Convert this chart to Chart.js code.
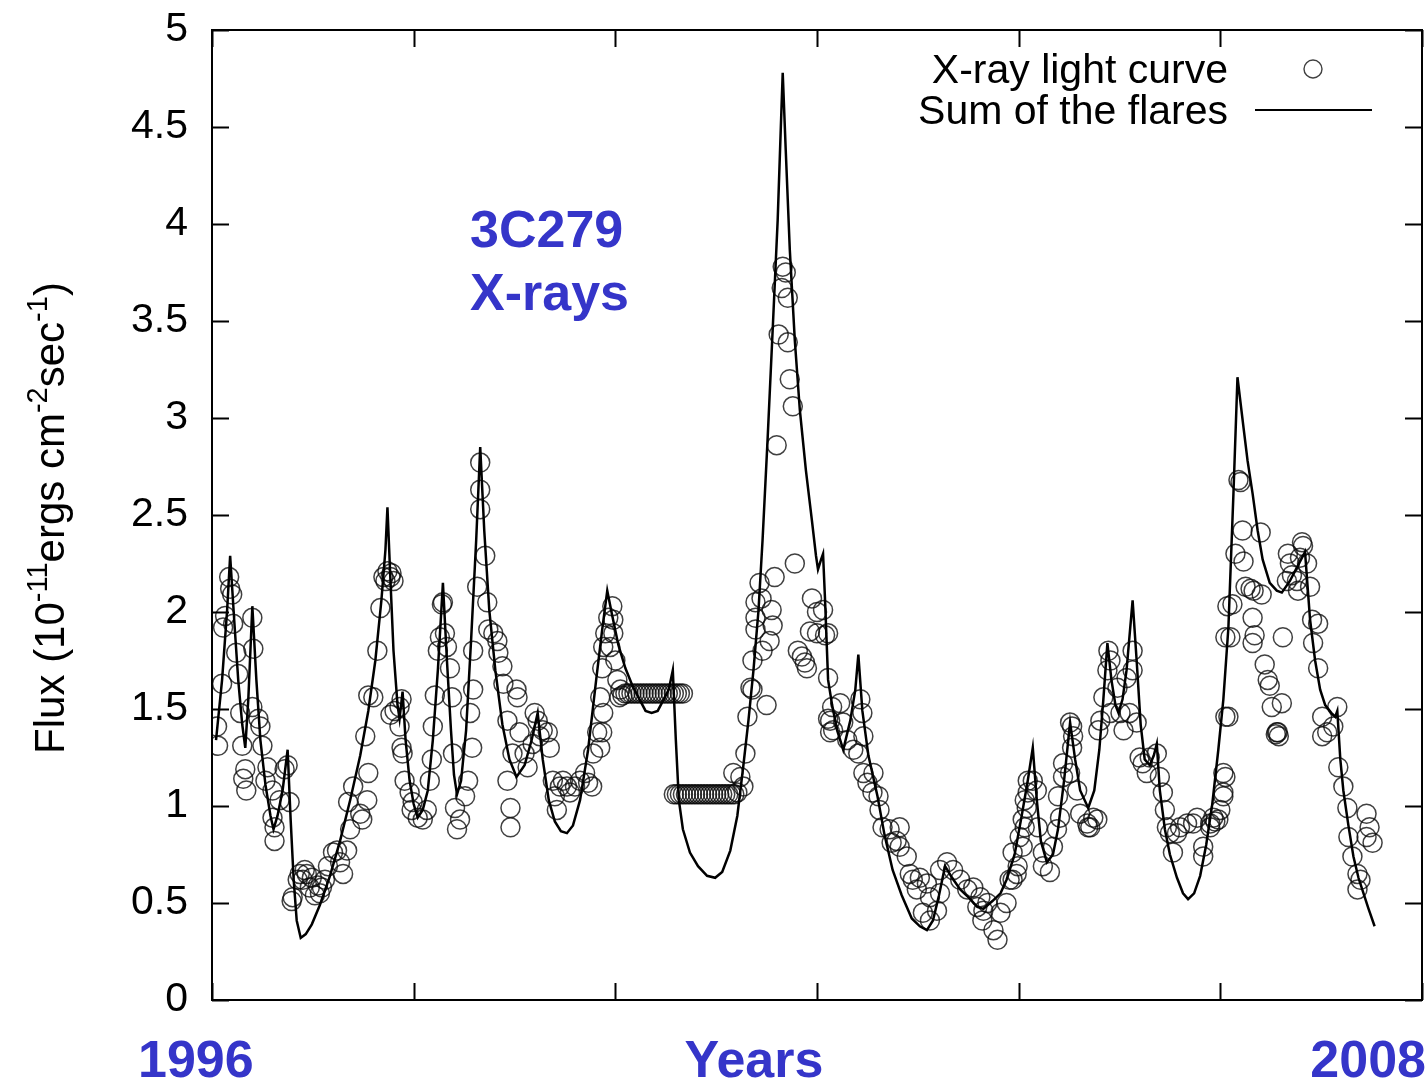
<!DOCTYPE html>
<html>
<head>
<meta charset="utf-8">
<title>3C279 X-rays</title>
<script src="https://cdn.jsdelivr.net/npm/chart.js@4.4.1/dist/chart.umd.min.js"></script>
<style>
  html, body { margin: 0; padding: 0; background: #ffffff; }
  canvas { display: block; }
</style>
</head>
<body>
<canvas id="chart" width="1427" height="1082"></canvas>
<script>
// Observed X-ray light curve of 3C279 (decimal year, flux in 1e-11 erg cm^-2 s^-1)
const obsYear = [
  1996.05,1996.06,1996.10,1996.11,1996.13,1996.17,1996.18,1996.20,1996.21,1996.24,
  1996.26,1996.28,1996.30,1996.31,1996.33,1996.34,1996.40,1996.40,1996.41,1996.46,
  1996.48,1996.50,1996.53,1996.55,1996.60,1996.60,1996.62,1996.62,1996.67,1996.72,
  1996.75,1996.77,1996.79,1996.80,1996.85,1996.87,1996.90,1996.92,1996.94,1996.97,
  1996.99,1997.02,1997.05,1997.07,1997.09,1997.12,1997.15,1997.20,1997.24,1997.27,
  1997.30,1997.34,1997.35,1997.37,1997.40,1997.47,1997.49,1997.52,1997.54,1997.55,
  1997.55,1997.60,1997.64,1997.67,1997.70,1997.72,1997.74,1997.77,1997.78,1997.80,
  1997.77,1997.81,1997.86,1997.88,1997.86,1997.88,1997.89,1997.91,1997.96,1997.98,
  1997.99,1998.04,1998.09,1998.13,1998.16,1998.18,1998.19,1998.21,1998.24,1998.26,
  1998.28,1998.29,1998.31,1998.33,1998.36,1998.38,1998.39,1998.41,1998.43,1998.46,
  1998.51,1998.54,1998.56,1998.58,1998.59,1998.59,1998.63,1998.66,1998.66,1998.66,
  1998.71,1998.73,1998.74,1998.79,1998.83,1998.84,1998.88,1998.89,1998.93,1998.93,
  1998.96,1998.96,1998.98,1999.02,1999.03,1999.05,1999.10,1999.13,1999.18,1999.20,
  1999.23,1999.25,1999.28,1999.33,1999.35,1999.38,1999.40,1999.42,1999.45,1999.48,
  1999.52,1999.55,1999.60,1999.65,1999.70,1999.73,1999.77,1999.78,1999.82,1999.85,
  1999.85,1999.87,1999.87,1999.88,1999.88,1999.90,1999.93,1999.95,1999.97,1999.98,
  1999.98,2000.00,2000.02,2000.05,2000.04,2000.07,2000.10,2000.13,2000.16,2000.19,
  2000.22,2000.25,2000.28,2000.31,2000.34,2000.37,2000.40,2000.43,2000.46,2000.49,
  2000.52,2000.55,2000.58,2000.61,2000.64,2000.67,2000.58,2000.61,2000.64,2000.67,
  2000.70,2000.73,2000.76,2000.79,2000.82,2000.85,2000.88,2000.91,2000.94,2000.97,
  2001.00,2001.03,2001.06,2001.09,2001.12,2001.15,2001.18,2001.21,2001.17,2001.24,
  2001.27,2001.29,2001.31,2001.34,2001.36,2001.36,2001.39,2001.39,2001.39,2001.43,
  2001.45,2001.46,2001.50,2001.53,2001.55,2001.56,2001.58,2001.60,2001.62,2001.65,
  2001.66,2001.69,2001.71,2001.71,2001.73,2001.76,2001.78,2001.81,2001.85,2001.88,
  2001.90,2001.93,2001.95,2002.00,2002.00,2002.06,2002.08,2002.11,2002.11,2002.11,
  2002.13,2002.13,2002.15,2002.16,2002.23,2002.26,2002.30,2002.36,2002.41,2002.43,
  2002.45,2002.46,2002.46,2002.50,2002.55,2002.56,2002.61,2002.62,2002.65,2002.72,
  2002.74,2002.79,2002.82,2002.82,2002.89,2002.92,2002.95,2002.99,2003.02,2003.05,
  2003.09,2003.12,2003.12,2003.19,2003.22,2003.22,2003.29,2003.35,2003.42,2003.49,
  2003.55,2003.59,2003.62,2003.64,2003.65,2003.69,2003.75,2003.79,2003.82,2003.88,
  2003.91,2003.94,2003.94,2003.98,2003.99,2004.01,2004.04,2004.04,2004.06,2004.06,
  2004.08,2004.09,2004.09,2004.14,2004.18,2004.19,2004.24,2004.24,2004.31,2004.34,
  2004.38,2004.39,2004.41,2004.44,2004.44,2004.51,2004.51,2004.53,2004.53,2004.54,
  2004.58,2004.61,2004.68,2004.69,2004.71,2004.74,2004.78,2004.79,2004.81,2004.84,
  2004.88,2004.89,2004.91,2004.91,2004.98,2005.01,2005.04,2005.07,2005.10,2005.13,
  2005.13,2005.17,2005.20,2005.23,2005.27,2005.30,2005.37,2005.40,2005.43,2005.45,
  2005.47,2005.50,2005.53,2005.57,2005.60,2005.67,2005.73,2005.77,2005.83,2005.83,
  2005.90,2005.90,2005.93,2005.95,2005.98,2006.00,2006.03,2006.03,2006.03,2006.05,
  2006.05,2006.05,2006.07,2006.08,2006.10,2006.12,2006.15,2006.18,2006.20,2006.22,
  2006.23,2006.25,2006.30,2006.32,2006.32,2006.33,2006.34,2006.40,2006.41,2006.44,
  2006.47,2006.49,2006.51,2006.55,2006.56,2006.57,2006.58,2006.61,2006.62,2006.66,
  2006.67,2006.69,2006.71,2006.76,2006.77,2006.79,2006.81,2006.82,2006.86,2006.89,
  2006.91,2006.92,2006.97,2006.97,2007.01,2007.01,2007.06,2007.12,2007.16,2007.17,
  2007.22,2007.26,2007.27,2007.31,2007.36,2007.36,2007.39,2007.45,2007.45,2007.48,
  2007.51
];
const obsFlux = [
  1.41,1.31,1.63,1.92,1.98,2.18,2.12,2.09,1.94,1.79,
  1.68,1.48,1.31,1.14,1.19,1.08,1.97,1.51,1.81,1.45,
  1.41,1.31,1.13,1.20,1.08,0.94,0.89,0.82,1.03,1.19,
  1.21,1.02,0.51,0.53,0.62,0.65,0.62,0.67,0.65,0.58,
  0.63,0.54,0.59,0.55,0.58,0.62,0.69,0.76,0.77,0.71,
  0.65,0.77,1.02,0.88,1.10,0.96,0.93,1.36,1.03,1.17,
  1.57,1.56,1.80,2.02,2.18,2.16,2.21,2.18,2.20,2.16,
  1.47,1.49,1.51,1.55,1.41,1.30,1.27,1.13,1.07,0.98,
  1.02,0.94,0.93,0.98,1.13,1.24,1.41,1.57,1.80,1.87,
  2.04,2.05,1.89,1.82,1.71,1.56,1.27,0.99,0.88,0.93,
  1.05,1.13,1.48,1.30,1.60,1.80,2.13,2.53,2.63,2.77,
  2.29,2.05,1.91,1.89,1.85,1.79,1.72,1.63,1.44,1.13,
  0.99,0.89,1.27,1.60,1.56,1.38,1.27,1.20,1.32,1.48,
  1.44,1.36,1.39,1.38,1.30,1.13,1.05,0.98,1.10,1.13,
  1.10,1.07,1.10,1.13,1.17,1.12,1.10,1.27,1.38,1.56,
  1.30,1.71,1.38,1.82,1.48,1.89,1.97,1.82,2.03,1.89,
  1.96,1.75,1.65,1.60,1.56,1.57,1.58,1.58,1.58,1.58,
  1.58,1.58,1.58,1.58,1.58,1.58,1.58,1.58,1.58,1.58,
  1.58,1.58,1.58,1.58,1.58,1.58,1.06,1.06,1.06,1.06,
  1.06,1.06,1.06,1.06,1.06,1.06,1.06,1.06,1.06,1.06,
  1.06,1.06,1.06,1.06,1.06,1.06,1.06,1.07,1.17,1.15,
  1.10,1.27,1.46,1.61,1.75,1.60,2.05,1.97,1.91,2.15,
  2.07,1.80,1.52,1.85,2.01,1.93,2.18,2.86,3.43,3.67,
  3.78,3.75,3.62,3.39,3.20,3.06,2.25,1.80,1.77,1.74,
  1.71,1.90,2.07,2.00,1.89,2.01,1.88,1.89,1.66,1.45,
  1.44,1.38,1.51,1.39,1.53,1.43,1.34,1.29,1.27,1.55,
  1.48,1.36,1.17,1.12,1.07,1.17,1.05,0.98,0.89,0.88,
  0.81,0.82,0.89,0.79,0.74,0.65,0.62,0.57,0.63,0.45,
  0.60,0.53,0.41,0.46,0.55,0.67,0.71,0.67,0.62,0.57,
  0.58,0.48,0.53,0.41,0.46,0.50,0.36,0.31,0.45,0.50,
  0.62,0.62,0.76,0.65,0.69,0.84,0.79,0.93,0.89,1.03,
  0.99,1.07,1.13,1.13,1.08,0.89,0.76,0.69,0.66,0.79,
  0.88,1.05,0.94,1.15,1.22,1.17,1.43,1.30,1.41,1.36,
  1.08,0.96,0.91,0.89,0.89,0.94,0.93,1.39,1.44,1.56,
  1.70,1.80,1.75,1.48,1.61,1.48,1.39,1.66,1.48,1.80,
  1.70,1.43,1.25,1.22,1.17,1.25,1.27,1.15,1.07,0.98,
  0.89,0.86,0.76,0.86,0.89,0.91,0.91,0.94,0.79,0.74,
  0.89,0.91,0.94,0.92,0.93,0.98,1.07,1.05,1.17,1.15,
  1.46,1.87,2.03,1.46,1.87,2.04,2.30,2.68,2.67,2.42,
  2.26,2.13,2.12,1.97,1.84,2.11,1.88,2.41,2.09,1.73,
  1.65,1.62,1.51,1.37,1.38,1.38,1.36,1.53,1.87,2.16,
  2.30,2.25,2.19,2.16,2.11,2.28,2.36,2.34,2.25,2.13,
  1.96,1.84,1.94,1.71,1.46,1.36,1.38,1.41,1.51,1.20,
  1.10,0.99,0.84,0.74,0.65,0.57,0.62,0.96,0.84,0.89,
  0.81
];

// Model: sum of the fitted flares
const curveYear = [
  1996.04,1996.10,1996.15,1996.18,1996.22,1996.26,1996.30,1996.33,1996.36,1996.40,
  1996.44,1996.48,1996.53,1996.58,1996.61,1996.65,1996.70,1996.75,1996.78,1996.81,
  1996.84,1996.88,1996.93,1996.99,1997.07,1997.17,1997.27,1997.37,1997.47,1997.55,
  1997.62,1997.68,1997.72,1997.74,1997.77,1997.80,1997.84,1997.86,1997.89,1997.92,
  1997.96,1998.00,1998.04,1998.09,1998.14,1998.19,1998.24,1998.29,1998.33,1998.37,
  1998.40,1998.43,1998.47,1998.52,1998.57,1998.62,1998.66,1998.70,1998.75,1998.81,
  1998.88,1998.95,1999.02,1999.10,1999.17,1999.23,1999.28,1999.34,1999.40,1999.46,
  1999.52,1999.58,1999.65,1999.73,1999.81,1999.87,1999.92,1999.97,2000.03,2000.10,
  2000.17,2000.24,2000.30,2000.36,2000.42,2000.48,2000.53,2000.57,2000.60,2000.63,
  2000.67,2000.74,2000.82,2000.91,2000.99,2001.06,2001.14,2001.21,2001.27,2001.32,
  2001.37,2001.42,2001.46,2001.51,2001.56,2001.61,2001.64,2001.66,2001.69,2001.73,
  2001.78,2001.83,2001.89,2001.95,2001.99,2002.01,2002.04,2002.06,2002.08,2002.11,
  2002.15,2002.20,2002.26,2002.33,2002.38,2002.41,2002.45,2002.51,2002.60,2002.67,
  2002.75,2002.84,2002.94,2003.02,2003.09,2003.15,2003.21,2003.27,2003.34,2003.42,
  2003.50,2003.59,2003.65,2003.74,2003.82,2003.88,2003.96,2004.03,2004.09,2004.14,
  2004.18,2004.22,2004.28,2004.34,2004.39,2004.45,2004.51,2004.56,2004.61,2004.69,
  2004.75,2004.80,2004.84,2004.88,2004.92,2004.96,2004.99,2005.03,2005.07,2005.13,
  2005.17,2005.21,2005.25,2005.30,2005.34,2005.37,2005.40,2005.45,2005.50,2005.57,
  2005.63,2005.68,2005.74,2005.80,2005.86,2005.92,2005.98,2006.03,2006.08,2006.13,
  2006.17,2006.23,2006.27,2006.32,2006.37,2006.42,2006.49,2006.56,2006.61,2006.69,
  2006.77,2006.84,2006.89,2006.94,2006.99,2007.04,2007.10,2007.14,2007.16,2007.19,
  2007.22,2007.27,2007.32,2007.37,2007.42,2007.47,2007.53
];
const curveFlux = [
  1.34,1.65,2.01,2.29,1.96,1.65,1.42,1.30,1.55,2.03,
  1.65,1.34,1.11,0.95,0.88,0.95,1.08,1.29,0.93,0.62,
  0.41,0.32,0.34,0.39,0.49,0.64,0.82,1.03,1.26,1.49,
  1.75,2.06,2.32,2.54,2.16,1.80,1.52,1.45,1.59,1.34,
  1.13,1.01,0.94,0.98,1.08,1.34,1.70,2.15,1.75,1.39,
  1.16,1.06,1.13,1.39,1.86,2.37,2.85,2.42,2.01,1.70,
  1.42,1.24,1.15,1.21,1.34,1.48,1.24,1.03,0.92,0.87,
  0.86,0.90,1.03,1.29,1.65,1.91,2.11,1.98,1.83,1.71,
  1.62,1.55,1.49,1.48,1.49,1.55,1.60,1.70,1.34,1.03,
  0.88,0.76,0.69,0.64,0.63,0.66,0.77,0.95,1.21,1.44,
  1.70,2.01,2.37,2.89,3.45,4.02,4.48,4.78,4.38,3.87,
  3.40,3.04,2.73,2.47,2.29,2.22,2.27,2.30,2.06,1.65,
  1.52,1.39,1.29,1.44,1.60,1.78,1.49,1.26,1.05,0.85,
  0.67,0.54,0.42,0.38,0.36,0.41,0.54,0.69,0.63,0.57,
  0.53,0.48,0.47,0.51,0.55,0.62,0.75,0.95,1.13,1.30,
  1.03,0.82,0.71,0.75,0.88,1.13,1.43,1.24,1.08,0.99,
  1.08,1.29,1.55,1.84,1.65,1.52,1.48,1.55,1.70,2.06,
  1.75,1.42,1.24,1.21,1.26,1.32,1.08,0.88,0.75,0.63,
  0.55,0.52,0.55,0.64,0.80,1.01,1.29,1.55,1.92,2.61,
  3.21,2.95,2.78,2.61,2.42,2.27,2.15,2.11,2.10,2.16,
  2.24,2.31,1.96,1.75,1.60,1.52,1.48,1.46,1.49,1.24,
  1.08,0.90,0.74,0.63,0.55,0.47,0.38
];

// Axis ticks
const fluxTicks = [0, 0.5, 1, 1.5, 2, 2.5, 3, 3.5, 4, 4.5, 5];
const yearTicks = [1996, 1998, 2000, 2002, 2004, 2006, 2008];

// Labels
const seriesNames = ['X-ray light curve', 'Sum of the flares'];
const sourceLines = ['3C279', 'X-rays'];
const axisWords = ['1996', 'Years', '2008'];
const yTitleParts = [
  ['Flux (10', false], ['-11', true], ['ergs cm', false], ['-2', true],
  ['sec', false], ['-1', true], [')', false]
];

const FONT = '"Liberation Sans", Arial, Helvetica, sans-serif';
const BLUE = '#3535c9';
const INK = '#000000';
const CIRCLE_INK = 'rgba(10,10,10,0.78)';

// Frame, inward ticks, legend and annotations
const decorations = {
  id: 'decorations',
  afterDatasetsDraw(chart) {
    const { ctx, chartArea: a, scales: { x, y } } = chart;
    ctx.save();
    ctx.strokeStyle = INK;
    ctx.lineWidth = 2;
    ctx.strokeRect(a.left, a.top, a.right - a.left, a.bottom - a.top);

    const tick = 17;
    ctx.beginPath();
    fluxTicks.forEach(v => {
      const py = Math.round(y.getPixelForValue(v)) + 0.5;
      ctx.moveTo(a.left, py); ctx.lineTo(a.left + tick, py);
      ctx.moveTo(a.right, py); ctx.lineTo(a.right - tick, py);
    });
    yearTicks.forEach(v => {
      const px = Math.round(x.getPixelForValue(v)) + 0.5;
      ctx.moveTo(px, a.bottom); ctx.lineTo(px, a.bottom - tick);
      ctx.moveTo(px, a.top); ctx.lineTo(px, a.top + tick);
    });
    ctx.stroke();

    // legend (text on the left, sample on the right)
    ctx.fillStyle = INK;
    ctx.font = '41px ' + FONT;
    ctx.textAlign = 'right';
    ctx.textBaseline = 'alphabetic';
    ctx.fillText(seriesNames[0], 1228, 83);
    ctx.fillText(seriesNames[1], 1228, 124);
    ctx.strokeStyle = CIRCLE_INK;
    ctx.lineWidth = 1.4;
    ctx.beginPath();
    ctx.arc(1313, 69, 9, 0, Math.PI * 2);
    ctx.stroke();
    ctx.strokeStyle = INK;
    ctx.lineWidth = 2.2;
    ctx.beginPath();
    ctx.moveTo(1255, 110); ctx.lineTo(1372, 110);
    ctx.stroke();

    // source name
    ctx.fillStyle = BLUE;
    ctx.font = 'bold 52px ' + FONT;
    ctx.textAlign = 'left';
    ctx.fillText(sourceLines[0], 470, 247);
    ctx.fillText(sourceLines[1], 470, 310);

    // time axis words
    ctx.fillText(axisWords[0], 138, 1077);
    ctx.textAlign = 'center';
    ctx.fillText(axisWords[1], 754, 1077);
    ctx.textAlign = 'right';
    ctx.fillText(axisWords[2], 1426, 1077);

    // rotated flux title with superscripts
    ctx.fillStyle = INK;
    const mainFont = '42px ' + FONT, supFont = '29px ' + FONT;
    let total = 0;
    const widths = yTitleParts.map(([t, sup]) => {
      ctx.font = sup ? supFont : mainFont;
      const w = ctx.measureText(t).width;
      total += w;
      return w;
    });
    ctx.translate(64, 518);
    ctx.rotate(-Math.PI / 2);
    ctx.textAlign = 'left';
    let cx = -total / 2;
    yTitleParts.forEach(([t, sup], i) => {
      ctx.font = sup ? supFont : mainFont;
      ctx.fillText(t, cx, sup ? -17 : 0);
      cx += widths[i];
    });
    ctx.restore();
  }
};

new Chart(document.getElementById('chart'), {
  type: 'scatter',
  data: {
    datasets: [
      {
        label: seriesNames[1],
        type: 'line',
        data: curveYear.map((t, i) => ({ x: t, y: curveFlux[i] })),
        borderColor: INK,
        borderWidth: 2.5,
        pointRadius: 0,
        tension: 0,
        fill: false,
        order: 1
      },
      {
        label: seriesNames[0],
        data: obsYear.map((t, i) => ({ x: t, y: obsFlux[i] })),
        pointStyle: 'circle',
        pointRadius: 9.5,
        pointHoverRadius: 9.5,
        borderWidth: 1.5,
        borderColor: CIRCLE_INK,
        backgroundColor: 'rgba(0,0,0,0)',
        order: 2
      }
    ]
  },
  options: {
    responsive: false,
    animation: false,
    devicePixelRatio: 1,
    events: [],
    layout: { autoPadding: false, padding: { top: 30, right: 5, bottom: 82, left: 0 } },
    plugins: { legend: { display: false }, tooltip: { enabled: false } },
    scales: {
      x: { type: 'linear', min: 1996, max: 2008, display: false },
      y: {
        type: 'linear', min: 0, max: 5,
        afterFit(scale) {
          scale.width = 212;
          scale.paddingTop = 0;
          scale.paddingBottom = 0;
        },
        afterBuildTicks(scale) { scale.ticks = fluxTicks.map(v => ({ value: v })); },
        ticks: { font: { family: FONT, size: 41 }, color: INK, padding: 24, callback: v => String(v) },
        grid: { display: false, drawTicks: false },
        border: { display: false }
      }
    }
  },
  plugins: [decorations]
});
</script>
</body>
</html>
